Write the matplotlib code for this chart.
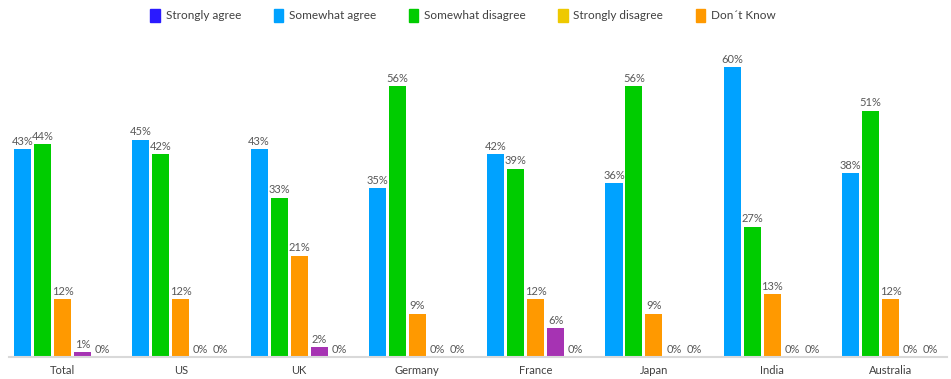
import numpy as np
import matplotlib.pyplot as plt
from matplotlib.patches import Patch

plt.rcParams['font.family'] = ['Lato', 'DejaVu Sans']

countries = ["Total", "US", "UK", "Germany", "France", "Japan", "India", "Australia"]
somewhat_agree = [43, 45, 43, 35, 42, 36, 60, 38]
somewhat_disagree = [44, 42, 33, 56, 39, 56, 27, 51]
dont_know = [12, 12, 21, 9, 12, 9, 13, 12]
purple_series = [1, 0, 2, 0, 6, 0, 0, 0]
last_series = [0, 0, 0, 0, 0, 0, 0, 0]

legend_labels = ["Strongly agree", "Somewhat agree", "Somewhat disagree",
                 "Strongly disagree", "Don\u00b4t Know"]
legend_colors = ["#2a1aff", "#00a2ff", "#00cc00", "#eec900", "#ff9900"]

series = [somewhat_agree, somewhat_disagree, dont_know, purple_series, last_series]
colors = ["#00a2ff", "#00cc00", "#ff9900", "#a633b3", "#eec900"]

fig = plt.figure(figsize=(9.51, 3.79), dpi=100)
ax = fig.add_axes([9 / 951, 1 - 357 / 379, 938 / 951, (357 - 43) / 379])

x = np.arange(len(countries))
step = 0.169
width = 0.144
for k, (vals, c) in enumerate(zip(series, colors)):
    pos = x + (k - 2) * step
    ax.bar(pos, vals, width=width, color=c, zorder=2)
    for px, v in zip(pos, vals):
        ax.text(px, v + 0.5, f"{v}%", ha="center", va="bottom",
                fontsize=8, color="#595959")

ax.set_xlim(-0.452, 7.477)
ax.set_ylim(0, 65)
ax.set_xticks(x)
ax.set_xticklabels(countries, fontsize=8, color="#404040")
ax.tick_params(axis="x", length=0, pad=6)
ax.set_yticks([])
for s in ["top", "right", "left"]:
    ax.spines[s].set_visible(False)
ax.spines["bottom"].set_color("#d9d9d9")
ax.spines["bottom"].set_linewidth(1.5)

handles = [Patch(color=c) for c in legend_colors]
leg = fig.legend(handles, legend_labels, loc="upper center", bbox_to_anchor=(0.487, 1.005),
                 ncol=5, frameon=False, fontsize=8.5, handlelength=0.8, handleheight=1.4,
                 handletextpad=0.5, columnspacing=2.75)
for t in leg.get_texts():
    t.set_color("#404040")

fig.savefig("out.png", dpi=100)
